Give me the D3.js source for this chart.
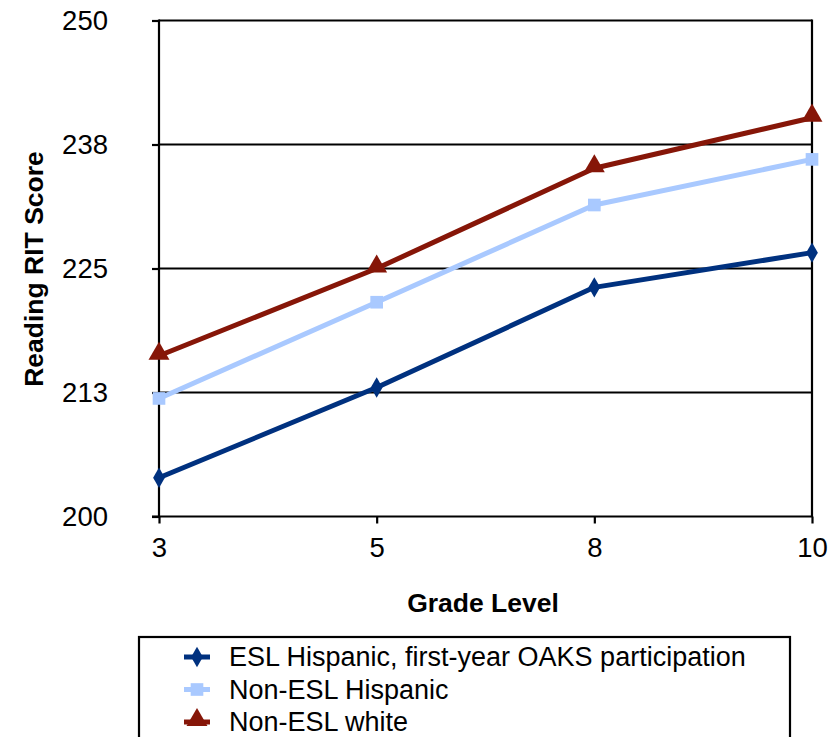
<!DOCTYPE html>
<html>
<head>
<meta charset="utf-8">
<script src="https://cdn.jsdelivr.net/npm/d3@7"></script>
<style>
  html, body { margin: 0; padding: 0; background: #fff; }
  svg { display: block; }
  text { font-family: "Liberation Sans", Arial, Helvetica, sans-serif; fill: #000; }
</style>
</head>
<body>
<svg id="chart" width="839" height="737"></svg>
<script>
const grades = ["3", "5", "8", "10"];
const eslHispanic = [203.9, 213.0, 223.1, 226.6];
const nonEslHispanic = [211.9, 221.6, 231.4, 236.0];
const nonEslWhite = [216.2, 225.0, 235.1, 240.2];
const yTickValues = [200, 212.5, 225, 237.5, 250];
const yTickLabels = ["200", "213", "225", "238", "250"];
const seriesNames = ["ESL Hispanic, first-year OAKS participation", "Non-ESL Hispanic", "Non-ESL white"];

const seriesList = [
  { name: seriesNames[0], values: eslHispanic, color: "#00317F", marker: "diamond" },
  { name: seriesNames[1], values: nonEslHispanic, color: "#A9C9FF", marker: "square" },
  { name: seriesNames[2], values: nonEslWhite, color: "#861608", marker: "triangle" }
];

const svg = d3.select("#chart");
const plot = { left: 159, right: 812, top: 20.5, bottom: 516.5 };

const x = d3.scalePoint().domain(grades).range([plot.left, plot.right]);
const y = d3.scaleLinear().domain([200, 250]).range([plot.bottom, plot.top]);

// gridlines
svg.append("g").selectAll("line").data(yTickValues.slice(1)).join("line")
  .attr("x1", plot.left).attr("x2", plot.right)
  .attr("y1", d => y(d)).attr("y2", d => y(d))
  .attr("stroke", "#000").attr("stroke-width", 2.2);

// right border
svg.append("line").attr("x1", plot.right).attr("x2", plot.right)
  .attr("y1", plot.top - 1).attr("y2", plot.bottom)
  .attr("stroke", "#000").attr("stroke-width", 2.2);

// y axis
const yAxis = d3.axisLeft(y).tickValues(yTickValues)
  .tickFormat((d, i) => yTickLabels[i]).tickSize(7).tickPadding(44);
const gy = svg.append("g").attr("transform", `translate(${plot.left},0)`).call(yAxis);
gy.select(".domain").attr("stroke", "#000").attr("stroke-width", 2.2)
  .attr("d", `M0,${plot.top - 1}V${plot.bottom + 1}`);
gy.selectAll(".tick line").attr("stroke", "#000").attr("stroke-width", 2.2);
gy.selectAll(".tick text").attr("font-size", 27.5).attr("font-family", "Liberation Sans, Arial, sans-serif").attr("fill", "#000");

// x axis
const xAxis = d3.axisBottom(x).tickSize(7).tickPadding(14);
const gx = svg.append("g").attr("transform", `translate(0,${plot.bottom})`).call(xAxis);
gx.select(".domain").attr("stroke", "#000").attr("stroke-width", 2.2)
  .attr("d", `M${plot.left - 7},0H${plot.right + 1}`);
gx.selectAll(".tick line").attr("stroke", "#000").attr("stroke-width", 2.2);
gx.selectAll(".tick text").attr("font-size", 27.5).attr("font-family", "Liberation Sans, Arial, sans-serif").attr("fill", "#000");

// axis titles
svg.append("text").attr("x", 483).attr("y", 612).attr("text-anchor", "middle")
  .attr("font-size", 26.5).attr("font-weight", "bold").text("Grade Level");
svg.append("text").attr("transform", "translate(43,269) rotate(-90)").attr("text-anchor", "middle")
  .attr("font-size", 26.5).attr("font-weight", "bold").text("Reading RIT Score");

// markers
const symbolFor = m => m === "diamond" ? d3.symbolDiamond : m === "square" ? d3.symbolSquare : d3.symbolTriangle;
const sizeFor = m => m === "diamond" ? 120 : m === "square" ? 160 : 190;

const line = d3.line().x((d, i) => x(grades[i])).y(d => y(d));
seriesList.forEach(s => {
  svg.append("path").attr("d", line(s.values)).attr("fill", "none")
    .attr("stroke", s.color).attr("stroke-width", 5).attr("stroke-linejoin", "round");
  svg.append("g").selectAll("path").data(s.values).join("path")
    .attr("transform", (d, i) => `translate(${x(grades[i])},${y(d) + (s.marker === "triangle" ? -2 : 0)})`)
    .attr("d", d3.symbol().type(symbolFor(s.marker)).size(sizeFor(s.marker)))
    .attr("fill", s.color);
});

// legend
const lg = svg.append("g");
lg.append("rect").attr("x", 139).attr("y", 637).attr("width", 651).attr("height", 120)
  .attr("fill", "#fff").attr("stroke", "#000").attr("stroke-width", 2.2);
seriesList.forEach((s, i) => {
  const cy = 657 + i * 32.5;
  lg.append("line").attr("x1", 184).attr("x2", 210).attr("y1", cy).attr("y2", cy)
    .attr("stroke", s.color).attr("stroke-width", 5);
  lg.append("path").attr("transform", `translate(197,${cy + (s.marker === "triangle" ? -2 : 0)})`)
    .attr("d", d3.symbol().type(symbolFor(s.marker)).size(sizeFor(s.marker)))
    .attr("fill", s.color);
  lg.append("text").attr("x", 229).attr("y", cy).attr("dy", "0.35em")
    .attr("font-size", 27).text(s.name);
});
</script>
</body>
</html>
